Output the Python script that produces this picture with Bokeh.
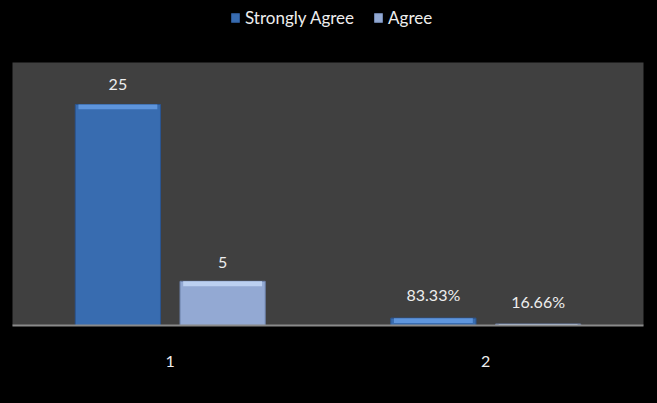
from bokeh.plotting import figure
from bokeh.layouts import column
from bokeh.models import FactorRange, Range1d, Legend, LegendItem, ColumnDataSource
from bokeh.transform import dodge
from bokeh.core.properties import value
from bokeh.embed import file_html
from bokeh.resources import INLINE

categories = ["1", "2"]
series_names = ["Strongly Agree", "Agree"]
strongly_agree = [25, 0.8333]
agree = [5, 0.1666]
strongly_labels = ["25", "83.33%"]
agree_labels = ["5", "16.66%"]

FONT = "Lato"
SA_COLOR = "#386cb0"
SA_EDGE = "#2b5590"
SA_BEVEL = "#5e95dc"
AG_COLOR = "#93a9d3"
AG_EDGE = "#6f84ad"
AG_BEVEL = "#bcd0f0"
BEVEL = 0.55  # bevel depth in value units (~5px)

src = ColumnDataSource(dict(cat=categories, sa=strongly_agree, ag=agree,
                            sal=strongly_labels, agl=agree_labels,
                            sab=[max(v - BEVEL, 0) for v in strongly_agree],
                            agb=[max(v - BEVEL, 0) for v in agree]))

# ---- main chart ----
p = figure(width=657, height=341, output_backend="svg", toolbar_location=None,
           x_range=FactorRange(factors=categories, range_padding=0),
           y_range=Range1d(0, 29.75),
           min_border_left=12, min_border_right=14, min_border_top=0, min_border_bottom=78)
p.background_fill_color = "#404040"
p.border_fill_color = "#000000"
p.outline_line_color = None
p.xgrid.visible = False
p.ygrid.visible = False
p.yaxis.visible = False

xs1 = dodge("cat", -0.166, range=p.x_range)
xs2 = dodge("cat", 0.166, range=p.x_range)

p.vbar(x=xs1, top="sa", width=0.27, source=src,
       fill_color=SA_COLOR, line_color=SA_EDGE, line_width=1)
p.vbar(x=xs2, top="ag", width=0.27, source=src,
       fill_color=AG_COLOR, line_color=AG_EDGE, line_width=1)
# top bevel highlight
p.vbar(x=xs1, top="sa", bottom="sab", width=0.25, source=src,
       fill_color=SA_BEVEL, line_color=None)
p.vbar(x=xs2, top="ag", bottom="agb", width=0.25, source=src,
       fill_color=AG_BEVEL, line_color=None)

p.text(x=xs1, y="sa", text="sal", source=src,
       text_align="center", text_baseline="bottom", y_offset=-14,
       text_font=value(FONT), text_font_size="16px", text_color="#eeeeee")
p.text(x=xs2, y="ag", text="agl", source=src,
       text_align="center", text_baseline="bottom", y_offset=-13,
       text_font=value(FONT), text_font_size="16px", text_color="#eeeeee")

ax = p.xaxis[0]
ax.axis_line_color = "#8a8a8a"
ax.axis_line_width = 2
ax.major_tick_line_color = None
ax.minor_tick_line_color = None
ax.major_label_standoff = 24
ax.major_label_text_color = "#eeeeee"
ax.major_label_text_font = FONT
ax.major_label_text_font_size = "16px"

# ---- legend strip on top ----
top = figure(width=657, height=62, output_backend="svg", toolbar_location=None,
             x_range=Range1d(0, 1), y_range=Range1d(0, 1),
             min_border_left=0, min_border_right=0, min_border_top=0, min_border_bottom=0)
top.background_fill_color = "#000000"
top.border_fill_color = "#000000"
top.outline_line_color = None
top.axis.visible = False
top.grid.visible = False
d1 = top.vbar(x=[-5], top=[-5], width=0.1, fill_color=SA_COLOR, line_color=SA_EDGE)
d2 = top.vbar(x=[-5], top=[-5], width=0.1, fill_color=AG_COLOR, line_color=AG_EDGE)

legend = Legend(items=[LegendItem(label=series_names[0], renderers=[d1]),
                       LegendItem(label=series_names[1], renderers=[d2])],
                orientation="horizontal", location=(218, 34),
                background_fill_alpha=0, border_line_color=None,
                label_text_color="#eeeeee", label_text_font=FONT, label_text_font_size="17px",
                glyph_width=10, glyph_height=11, label_standoff=5, spacing=19,
                label_height=20, padding=0, margin=0)
top.add_layout(legend, "center")

layout = column(top, p, spacing=0)

html = file_html(layout, INLINE)
html = html.replace("<head>", "<head><style>html,body{background:#000;}</style>", 1)
open("out.html", "w").write(html)
